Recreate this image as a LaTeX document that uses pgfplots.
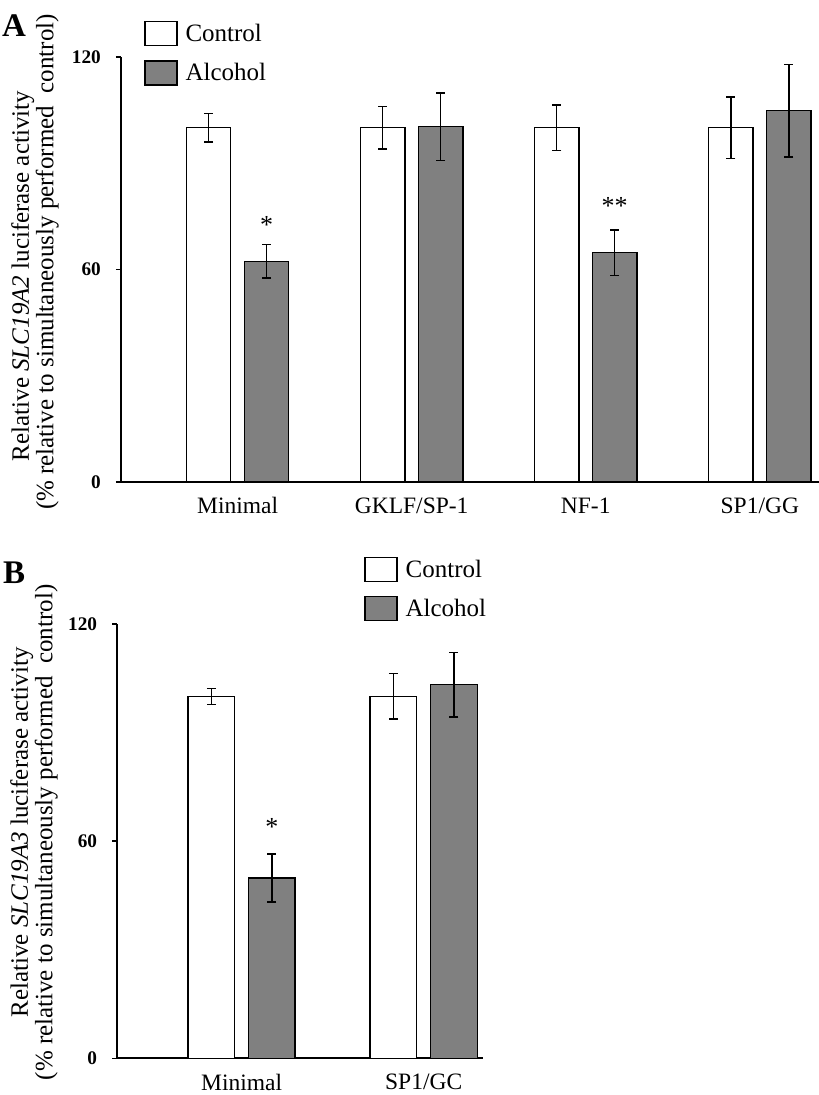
\documentclass[border=0pt]{standalone}
\usepackage{graphicx}
\usepackage{pgfplots}
\pgfplotsset{compat=1.18}
\usepackage{fontspec}
\setmainfont{Liberation Serif}
\definecolor{bargray}{RGB}{128,128,128}
\newcommand{\lab}{\fontsize{23.5}{28}\selectfont}
\newcommand{\ylabf}{\fontsize{25}{24.5}\selectfont}
\newcommand{\legf}{\fontsize{25}{29}\selectfont}
\newcommand{\starf}{\fontsize{26}{30}\selectfont}
\newcommand{\panelf}{\fontsize{33}{36}\selectfont\bfseries}
\newcommand{\tk}[1]{\resizebox{!}{12.8pt}{\bfseries #1}}
\begin{document}
\begin{tikzpicture}
\path[use as bounding box] (0,0) rectangle (819pt,1095pt);
\pgfplotsset{
  mybars/.style={
    scale only axis, clip=false,
    ybar, bar shift=0pt, bar width=0.255,
    ymin=0, ymax=120,
    ytick={0,60,120},
    yticklabels={\tk{0},\tk{60},\tk{120}},
    yticklabel style={inner sep=0pt, xshift=-15pt},
    xticklabel style={font=\lab, yshift=-7pt},
    axis x line=bottom, axis y line=left,
    axis line style={line width=1.6pt, -},
    tick align=outside, major tick length=5pt,
    ytick style={line width=1.4pt, black},
    xtick style={draw=none},
    xtick={0,1,2,3},
    legend style={draw=none, fill=none, font=\legf, inner sep=0pt,
      legend cell align=left, row sep=14pt,
      /tikz/every odd column/.append style={column sep=6pt}},
    legend image code/.code={\draw[#1, line width=1.3pt] (0pt,-12pt) rectangle (32pt,12pt);},
    error bars/error bar style={line width=1.4pt, black},
    error bars/error mark options={rotate=90, line width=1.4pt, mark size=4.5pt, black},
    ylabel style={font=\ylabf, align=center},
  },
  ctrl/.style={draw=black, fill=white, line width=1.3pt},
  alc/.style={draw=black, fill=bargray, line width=1.3pt},
}
% Panel A
\begin{axis}[mybars,
  at={(121pt,613pt)}, anchor=south west,
  width=698pt, height=425pt,
  xmin=-0.67, xmax=3.34,
  xticklabels={Minimal,GKLF/SP-1,NF-1,SP1/GG},
  ylabel={{\ylabf Relative \textit{SLC19A2} luciferase activity\hbox to 14pt{}}\\{\ylabf\hbox to 14pt{}(\% relative to simultaneously performed~ control)}},
  ylabel style={at={(axis description cs:-0.123,0.501)}, anchor=center},
  legend style={at={(axis description cs:0.033,1.085)}, anchor=north west},
]
\addplot[ctrl, error bars/.cd, y dir=both, y explicit] coordinates {
  (-0.1665,100) +- (0,4.0)
  (0.8335,100) +- (0,6.0)
  (1.8335,100) +- (0,6.4)
  (2.8335,100) +- (0,8.7)
};
\addlegendentry{Control}
\addplot[alc, error bars/.cd, y dir=both, y explicit] coordinates {
  (0.1665,62.3) +- (0,4.7)
  (1.1665,100.3) +- (0,9.5)
  (2.1665,64.7) +- (0,6.4)
  (3.1665,104.8) +- (0,13.0)
};
\addlegendentry{Alcohol}
\node[font=\starf] at (axis cs:0.1665,72.5) {*};
\node[font=\starf] at (axis cs:2.1665,78) {**};
\node[anchor=north west, inner sep=0pt] at (axis description cs:-0.1705,1.099) {\panelf A};
\end{axis}
% Panel B
\begin{axis}[mybars,
  at={(117.3pt,36.7pt)}, anchor=south west,
  width=365.7pt, height=434.3pt,
  xmin=-0.683, xmax=1.326,
  xtick={0,1},
  xticklabels={Minimal,SP1/GC},
  ylabel={{\ylabf Relative \textit{SLC19A3} luciferase activity}\\{\ylabf(\% relative to simultaneously performed~ control)}},
  ylabel style={at={(axis description cs:-0.228,0.52)}, anchor=center},
  legend style={at={(axis description cs:0.675,1.155)}, anchor=north west},
]
\addplot[ctrl, error bars/.cd, y dir=both, y explicit] coordinates {
  (-0.1665,100) +- (0,2.2)
  (0.8335,100) +- (0,6.3)
};
\addlegendentry{Control}
\addplot[alc, error bars/.cd, y dir=both, y explicit] coordinates {
  (0.1665,49.8) +- (0,6.6)
  (1.1665,103.2) +- (0,8.9)
};
\addlegendentry{Alcohol}
\node[font=\starf] at (axis cs:0.1665,64) {*};
\node[anchor=north west, inner sep=0pt] at (axis description cs:-0.3125,1.143) {\panelf B};
\end{axis}
\end{tikzpicture}
\end{document}
